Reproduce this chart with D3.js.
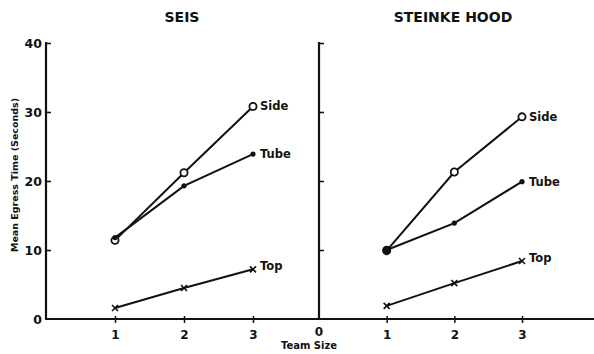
<!DOCTYPE html>
<html><head><meta charset="utf-8">
<script src="https://cdn.jsdelivr.net/npm/d3@7"></script>
<style>body{margin:0;background:#fff}svg{display:block}text{font-family:"DejaVu Sans",sans-serif;font-weight:bold;fill:#111}</style>
</head><body><svg id="c" width="594" height="354"></svg>
<script>
const teamSizes = [1, 2, 3];
const yTicks = [0, 10, 20, 30, 40];
const panels = ["SEIS", "STEINKE HOOD"];
const seriesNames = ["Side", "Tube", "Top"];
const seisSide = [11.4, 21.2, 30.8];
const seisTube = [11.8, 19.3, 23.9];
const seisTop = [1.6, 4.5, 7.2];
const hoodSide = [9.9, 21.3, 29.3];
const hoodTube = [10.0, 13.9, 19.9];
const hoodTop = [1.9, 5.2, 8.4];

const svg = d3.select("#c");
const y = d3.scaleLinear().domain([0, 40]).range([319, 43]);
const xs = [d3.scaleLinear().domain([0, 3]).range([46, 253]), d3.scaleLinear().domain([0, 3]).range([319, 522])];
const data = [[seisSide, seisTube, seisTop], [hoodSide, hoodTube, hoodTop]];
const ink = "#111";

svg.append("line").attr("x1", 45).attr("x2", 594).attr("y1", y(0)).attr("y2", y(0)).attr("stroke", ink).attr("stroke-width", 2);

panels.forEach((title, p) => {
  const x = xs[p];
  const ya = svg.append("g").attr("transform", `translate(${x(0)},0)`)
    .call(d3.axisRight(y).tickValues(yTicks.slice(1)).tickSize(5).tickFormat(""));
  ya.select(".domain").remove();
  ya.selectAll("line").attr("stroke", ink).attr("stroke-width", 1.6);
  svg.append("line").attr("x1", x(0)).attr("x2", x(0)).attr("y1", y(40) - 1).attr("y2", y(0)).attr("stroke", ink).attr("stroke-width", 2.2);
  if (p === 0) {
    svg.append("g").selectAll("text").data(yTicks).join("text")
      .attr("x", x(0) - 4).attr("y", d => y(d) + 4.5).attr("text-anchor", "end").attr("font-size", 12.5).text(d => d);
  } else {
    svg.append("text").attr("x", x(0)).attr("y", y(0) + 17).attr("text-anchor", "middle").attr("font-size", 12).text("0");
  }
  const xa = svg.append("g").attr("transform", `translate(0,${y(0) - 3})`)
    .call(d3.axisBottom(x).tickValues(teamSizes).tickSize(7).tickFormat(d3.format("d")));
  xa.select(".domain").remove();
  xa.attr("font-family", null).attr("font-size", null);
  xa.selectAll("line").attr("stroke", ink).attr("stroke-width", 1.5);
  xa.selectAll("text").attr("font-size", 12).attr("dy", "1.05em").attr("fill", ink);

  svg.append("text").attr("x", p === 0 ? 182 : 453).attr("y", 22).attr("text-anchor", "middle").attr("font-size", 14).text(title);

  const line = d3.line().x((d, i) => x(teamSizes[i])).y(d => y(d));
  data[p].forEach((vals, s) => {
    svg.append("path").attr("d", line(vals)).attr("fill", "none").attr("stroke", ink).attr("stroke-width", 2);
    const g = svg.append("g");
    vals.forEach((v, i) => {
      const cx = x(teamSizes[i]), cy = y(v);
      if (s === 0) {
        g.append("circle").attr("cx", cx).attr("cy", cy).attr("r", 3.6).attr("fill", "#fff").attr("stroke", ink).attr("stroke-width", 1.8);
      } else if (s === 1) {
        g.append("circle").attr("cx", cx).attr("cy", cy).attr("r", (p === 1 && i === 0) ? 4.2 : 2.6).attr("fill", ink);
      } else {
        g.append("path").attr("d", `M${cx - 3},${cy - 3}L${cx + 3},${cy + 3}M${cx + 3},${cy - 3}L${cx - 3},${cy + 3}`).attr("stroke", ink).attr("stroke-width", 1.6);
      }
    });
    const last = vals[vals.length - 1];
    svg.append("text").attr("x", x(3) + 7).attr("y", y(last) + (s === 2 ? 1 : 4)).attr("font-size", 11.5).text(seriesNames[s]);
  });
});

svg.append("text").attr("transform", "translate(18,175) rotate(-90)").attr("text-anchor", "middle").attr("font-size", 9.5).text("Mean Egress Time (Seconds)");
svg.append("text").attr("x", 309).attr("y", 349).attr("text-anchor", "middle").attr("font-size", 10).text("Team Size");
</script></body></html>
